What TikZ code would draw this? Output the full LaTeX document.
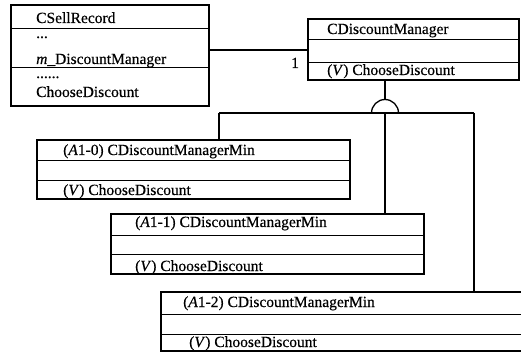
\documentclass[tikz,border=0pt]{standalone}
\usepackage{fontspec}
\setmainfont[FakeBold=0.4,AutoFakeBold=0.4]{Liberation Serif}
\begin{document}
\begin{tikzpicture}[x=1pt,y=-1pt,
  box/.style={draw, line width=1.8pt, inner sep=0pt, outer sep=0pt, anchor=north west},
  divider/.style={line width=0.9pt},
  conn/.style={line width=1.3pt},
  txt/.style={anchor=base west, inner sep=0pt, font=\fontsize{15.5}{18}\selectfont}]
\useasboundingbox (0,0) rectangle (521,352);
\clip (0,0) rectangle (521,352);

% class boxes
\node[box, minimum width=198pt, minimum height=101pt] (sell) at (11,5) {};
\node[box, minimum width=211pt, minimum height=61pt] (mgr) at (308,19) {};
\node[box, minimum width=313pt, minimum height=59pt] (a0) at (37,140) {};
\node[box, minimum width=313pt, minimum height=60pt] (a1) at (111,214) {};
\node[box, minimum width=380pt, minimum height=59pt] (a2) at (161,292) {};

% compartment dividers
\draw[divider] (sell.west |- 0,28) -- (sell.east |- 0,28);
\draw[divider] (sell.west |- 0,67) -- (sell.east |- 0,67);
\draw[divider] (mgr.west |- 0,39) -- (mgr.east |- 0,39);
\draw[divider] (mgr.west |- 0,62) -- (mgr.east |- 0,62);
\draw[divider] (a0.west |- 0,160) -- (a0.east |- 0,160);
\draw[divider] (a0.west |- 0,180) -- (a0.east |- 0,180);
\draw[divider] (a1.west |- 0,235) -- (a1.east |- 0,235);
\draw[divider] (a1.west |- 0,254) -- (a1.east |- 0,254);
\draw[divider] (a2.west |- 0,314) -- (a2.east |- 0,314);
\draw[divider] (a2.west |- 0,334) -- (a2.east |- 0,334);

% texts
\node[txt] (sellT) at (36,23) {CSellRecord};
\node[txt] (sellD1) at (36,38) {...};
\node[txt] (sellA) at (36,64) {\textit{m}\_DiscountManager};
\node[txt] (sellD2) at (36,78) {......};
\node[txt] (sellM) at (36,97) {ChooseDiscount};

\node[txt] (mgrT) at (327,34) {CDiscountManager};
\node[txt] (mgrM) at (327,75) {(\textit{V}) ChooseDiscount};

\node[txt] (a0T) at (63,155) {(\textit{A}1-0) CDiscountManagerMin};
\node[txt] (a0M) at (63,195) {(\textit{V}) ChooseDiscount};

\node[txt] (a1T) at (135,227) {(\textit{A}1-1) CDiscountManagerMin};
\node[txt] (a1M) at (135,271) {(\textit{V}) ChooseDiscount};

\node[txt] (a2T) at (183,307) {(\textit{A}1-2) CDiscountManagerMin};
\node[txt] (a2M) at (189,347) {(\textit{V}) ChooseDiscount};

% association
\draw[conn] (mgr.west |- 0,50) -- (sell.east |- 0,50);
\node[txt] (one) at (291,68) {1};

% generalization
\coordinate (tri) at (385,113);
\coordinate (arctop) at (385,99.5);
\coordinate (busL) at (219,113);
\coordinate (busR) at (474,113);
\draw[conn] (mgr.south -| arctop) -- (arctop);
\draw[conn] (398.5,113) arc[start angle=0, end angle=180, radius=13.5pt];
\draw[conn] (busL) -- (busR);
\draw[conn] (busL) -- (a0.north -| busL);
\draw[conn] (tri) -- (a1.north -| tri);
\draw[conn] (busR) -- (a2.north -| busR);
\end{tikzpicture}
\end{document}
